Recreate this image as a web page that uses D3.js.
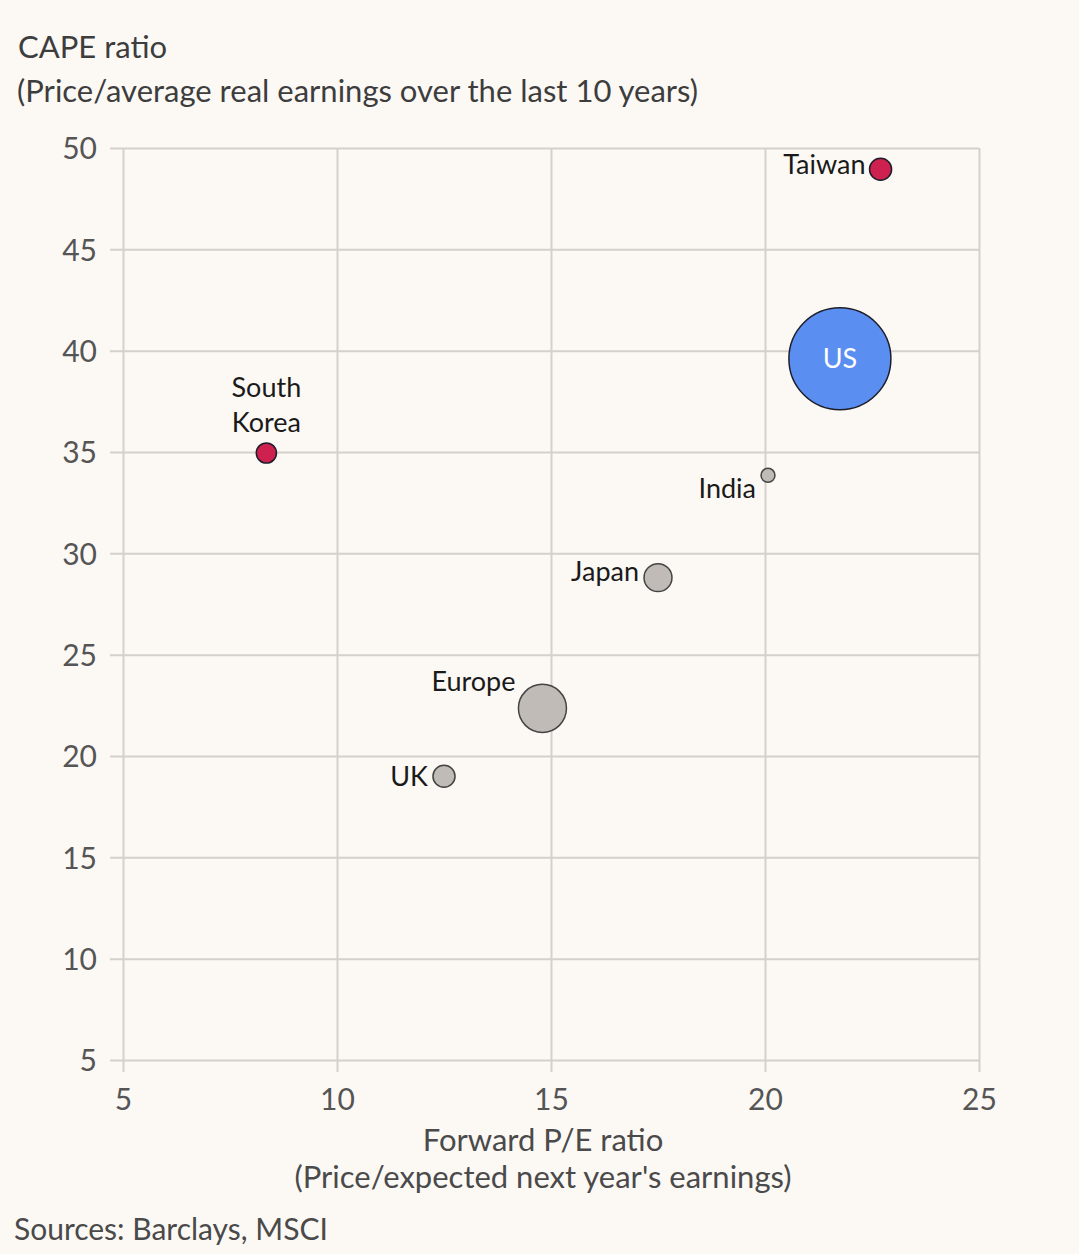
<!DOCTYPE html>
<html>
<head>
<meta charset="utf-8">
<script src="https://cdn.jsdelivr.net/npm/d3@7"></script>
<style>
  html, body { margin: 0; padding: 0; background: #fcf9f5; }
  svg { display: block; }
  text { font-family: Lato, "Open Sans", sans-serif; }
</style>
</head>
<body>
<div id="chart"></div>
<script>
// Chart data
const markets = ['Taiwan', 'US', 'South Korea', 'India', 'Japan', 'Europe', 'UK']
const forwardPE = [22.7, 21.75, 8.35, 20.07, 17.5, 14.8, 12.5]
const capeRatio = [48.95, 39.6, 34.95, 33.85, 28.8, 22.35, 19.0]
const weights = [3.0, 64, 2.5, 1.2, 4.8, 14.2, 3.0] // share of index, sets bubble size
const groups = ['asia', 'us', 'asia', 'other', 'other', 'other', 'other']

const xTicks = [5, 10, 15, 20, 25]
const yTicks = [5, 10, 15, 20, 25, 30, 35, 40, 45, 50]

const colours = { asia: '#cf2150', us: '#5a8ef1', other: '#c0bbb7' }

// Where each label sits relative to its bubble
const labelPlacement = {
  Taiwan: { anchor: 'end', dx: -15, dy: 5 },
  'South Korea': { anchor: 'middle', dx: 0, dy: -56, lines: ['South', 'Korea'] },
  India: { anchor: 'end', dx: -12, dy: 23 },
  Japan: { anchor: 'end', dx: -19, dy: 3 },
  Europe: { anchor: 'end', dx: -27, dy: -17 },
  UK: { anchor: 'end', dx: -16, dy: 10 },
}

const width = 1079,
  height = 1254
const margin = { top: 148, right: 100, bottom: 194, left: 123 }

const svg = d3
  .select('#chart')
  .append('svg')
  .attr('width', width)
  .attr('height', height)

svg.append('rect').attr('width', width).attr('height', height).attr('fill', '#fcf9f5')

const x = d3
  .scaleLinear()
  .domain([5, 25])
  .range([margin.left, width - margin.right])
const y = d3
  .scaleLinear()
  .domain([5, 50])
  .range([height - margin.bottom, margin.top])
const r = d3.scaleSqrt().domain([0, 64]).range([0, 51])

// Titles
svg
  .append('text')
  .attr('x', 18)
  .attr('y', 58)
  .attr('fill', '#3d3d3d')
  .style('font-size', '31px')
  .text('CAPE ratio')
svg
  .append('text')
  .attr('x', 17)
  .attr('y', 102)
  .attr('fill', '#3d3d3d')
  .style('font-size', '31px')
  .text('(Price/average real earnings over the last 10 years)')

// Gridlines + axes
const plotW = width - margin.left - margin.right
const plotH = height - margin.top - margin.bottom

const yAxis = svg
  .append('g')
  .attr('transform', `translate(${margin.left},0)`)
  .call(d3.axisLeft(y).tickValues(yTicks).tickSize(-plotW).tickPadding(26).tickFormat(d3.format('d')))
yAxis.select('.domain').remove()
yAxis
  .selectAll('.tick line')
  .attr('x1', -13)
  .attr('stroke', '#d4d0cb')
  .attr('stroke-width', 2)
yAxis.selectAll('.tick text').attr('fill', '#555').style('font-size', '30px').attr('dy', '0.36em')

const xAxis = svg
  .append('g')
  .attr('transform', `translate(0,${height - margin.bottom})`)
  .call(d3.axisBottom(x).tickValues(xTicks).tickSize(-plotH).tickPadding(29).tickFormat(d3.format('d')))
xAxis.select('.domain').remove()
xAxis
  .selectAll('.tick line')
  .attr('y1', 12)
  .attr('stroke', '#d4d0cb')
  .attr('stroke-width', 2)
xAxis.selectAll('.tick text').attr('fill', '#555').style('font-size', '30px')

// X axis title
const xTitleX = (margin.left + width - margin.right) / 2 - 8
svg
  .append('text')
  .attr('x', xTitleX)
  .attr('y', 1151)
  .attr('text-anchor', 'middle')
  .attr('fill', '#4a4a4a')
  .style('font-size', '31px')
  .text('Forward P/E ratio')
svg
  .append('text')
  .attr('x', xTitleX)
  .attr('y', 1188)
  .attr('text-anchor', 'middle')
  .attr('fill', '#4a4a4a')
  .style('font-size', '31px')
  .text("(Price/expected next year's earnings)")

// Bubbles
const points = markets.map((name, i) => ({
  name: name,
  pe: forwardPE[i],
  cape: capeRatio[i],
  weight: weights[i],
  group: groups[i],
}))

const bubbles = svg.append('g')
bubbles
  .selectAll('circle')
  .data(points)
  .enter()
  .append('circle')
  .attr('cx', (d) => x(d.pe))
  .attr('cy', (d) => y(d.cape))
  .attr('r', (d) => r(d.weight))
  .attr('fill', (d) => colours[d.group])
  .attr('stroke', (d) => (d.group === 'other' ? '#444' : '#1e1e2a'))
  .attr('stroke-width', 1.5)

// Labels
const labels = svg.append('g')
points.forEach((d) => {
  if (d.name === 'US') {
    labels
      .append('text')
      .attr('x', x(d.pe))
      .attr('y', y(d.cape))
      .attr('dy', '0.36em')
      .attr('text-anchor', 'middle')
      .attr('fill', '#fff')
      .style('font-size', '27px')
      .text('US')
    return
  }
  const p = labelPlacement[d.name]
  const t = labels
    .append('text')
    .attr('x', x(d.pe) + p.dx)
    .attr('y', y(d.cape) + p.dy)
    .attr('text-anchor', p.anchor)
    .attr('fill', '#1a1a1a')
    .style('font-size', '27px')
  const lines = p.lines || [d.name]
  lines.forEach((line, j) => {
    t.append('tspan')
      .attr('x', x(d.pe) + p.dx)
      .attr('dy', j === 0 ? 0 : 35)
      .text(line)
  })
})

// Source
svg
  .append('text')
  .attr('x', 14)
  .attr('y', 1240)
  .attr('fill', '#4a4a4a')
  .style('font-size', '30px')
  .text('Sources: Barclays, MSCI')
</script>
</body>
</html>
